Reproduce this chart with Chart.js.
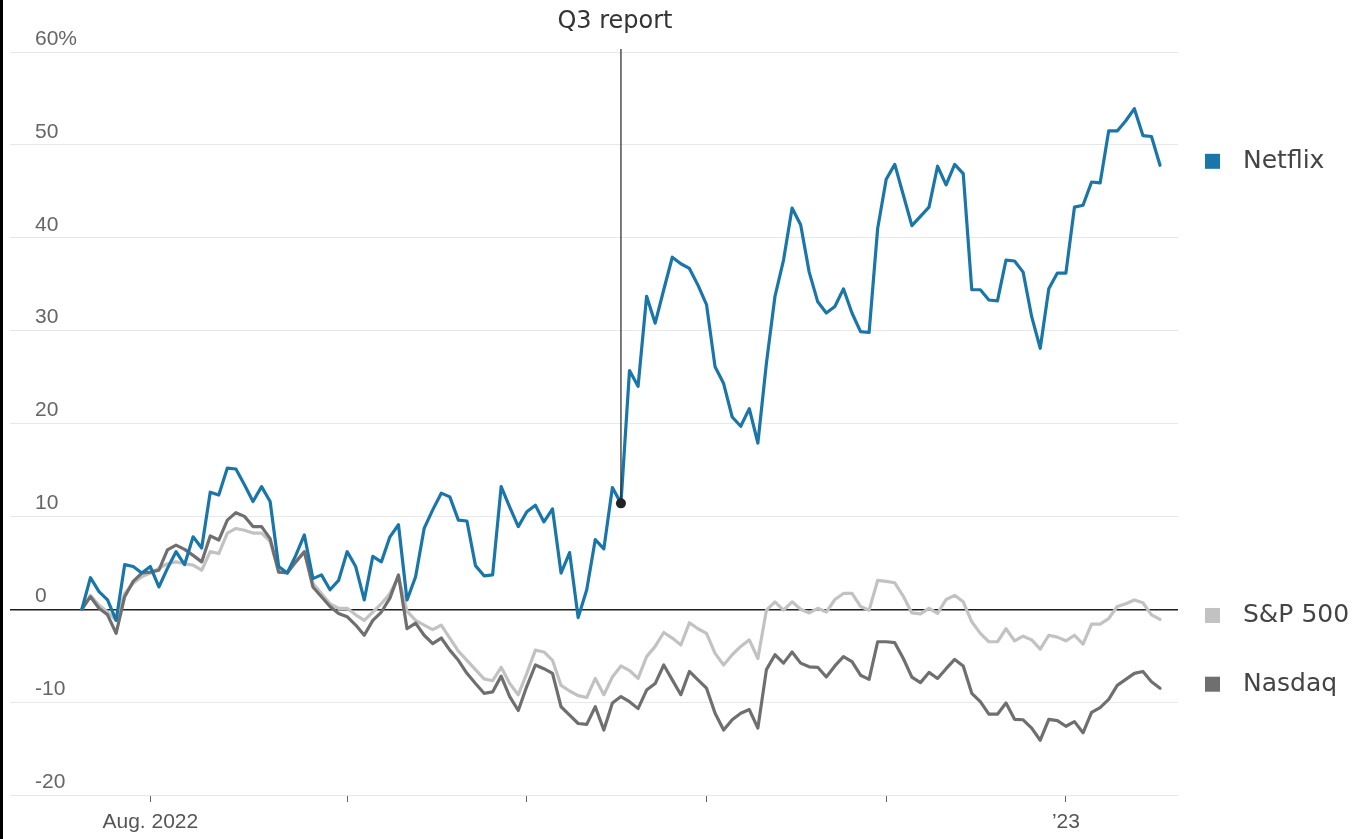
<!DOCTYPE html>
<html>
<head>
<meta charset="utf-8">
<title>Netflix, S&amp;P 500 y Nasdaq</title>
<script src="https://cdn.jsdelivr.net/npm/chart.js@4.4.1/dist/chart.umd.min.js"></script>
<style>
    html, body { margin: 0; padding: 0; background: #fff; }
    #wrap { position: relative; width: 1360px; height: 839px; }
    #borde { position: absolute; left: 0; top: 0; width: 3px; height: 839px; background: #000; }
    canvas { display: block; }
</style>
</head>
<body>
<div id="wrap">
    <canvas id="grafico" width="1360" height="839"></canvas>
    <div id="borde"></div>
</div>
<script>
/*========== DATOS ==========*/
// Dias de mercado, del 20 de julio de 2022 al 19 de enero de 2023
const fechas = [
    '2022-07-20','2022-07-21','2022-07-22','2022-07-25','2022-07-26','2022-07-27','2022-07-28','2022-07-29',
    '2022-08-01','2022-08-02','2022-08-03','2022-08-04','2022-08-05','2022-08-08','2022-08-09','2022-08-10',
    '2022-08-11','2022-08-12','2022-08-15','2022-08-16','2022-08-17','2022-08-18','2022-08-19','2022-08-22',
    '2022-08-23','2022-08-24','2022-08-25','2022-08-26','2022-08-29','2022-08-30','2022-08-31',
    '2022-09-01','2022-09-02','2022-09-06','2022-09-07','2022-09-08','2022-09-09','2022-09-12','2022-09-13',
    '2022-09-14','2022-09-15','2022-09-16','2022-09-19','2022-09-20','2022-09-21','2022-09-22','2022-09-23',
    '2022-09-26','2022-09-27','2022-09-28','2022-09-29','2022-09-30',
    '2022-10-03','2022-10-04','2022-10-05','2022-10-06','2022-10-07','2022-10-10','2022-10-11','2022-10-12',
    '2022-10-13','2022-10-14','2022-10-17','2022-10-18','2022-10-19','2022-10-20','2022-10-21','2022-10-24',
    '2022-10-25','2022-10-26','2022-10-27','2022-10-28','2022-10-31',
    '2022-11-01','2022-11-02','2022-11-03','2022-11-04','2022-11-07','2022-11-08','2022-11-09','2022-11-10',
    '2022-11-11','2022-11-14','2022-11-15','2022-11-16','2022-11-17','2022-11-18','2022-11-21','2022-11-22',
    '2022-11-23','2022-11-25','2022-11-28','2022-11-29','2022-11-30',
    '2022-12-01','2022-12-02','2022-12-05','2022-12-06','2022-12-07','2022-12-08','2022-12-09','2022-12-12',
    '2022-12-13','2022-12-14','2022-12-15','2022-12-16','2022-12-19','2022-12-20','2022-12-21','2022-12-22',
    '2022-12-23','2022-12-27','2022-12-28','2022-12-29','2022-12-30',
    '2023-01-03','2023-01-04','2023-01-05','2023-01-06','2023-01-09','2023-01-10','2023-01-11','2023-01-12',
    '2023-01-13','2023-01-17','2023-01-18','2023-01-19'
];

// Variacion acumulada en %
const netflix = [
    0, 3.4, 1.9, 1.0, -1.2, 4.8, 4.6, 3.9, 4.6, 2.4, 4.4, 6.2, 4.8, 7.8, 6.6, 12.6,
    12.3, 15.2, 15.1, 13.4, 11.6, 13.2, 11.6, 4.6, 3.9, 5.8, 8.0, 3.3, 3.7, 2.1, 3.1,
    6.2, 4.6, 1.0, 5.7, 5.1, 7.8, 9.1, 1.0, 3.5, 8.7, 10.7, 12.5, 12.1, 9.6, 9.5,
    4.7, 3.6, 3.7, 13.2, 11.0, 8.9,
    10.5, 11.2, 9.4, 10.8, 3.9, 6.1, -0.9, 2.1, 7.5, 6.5, 13.1, 11.4, 25.7, 24.0,
    33.7, 30.8, 34.4, 37.9, 37.2, 36.7, 34.9,
    32.8, 26.1, 24.3, 20.7, 19.7, 21.6, 17.9, 26.5, 33.7, 37.6, 43.2, 41.4, 36.3,
    33.1, 31.9, 32.6, 34.5, 31.9, 29.9, 29.8, 41.0,
    46.3, 47.9, 44.6, 41.3, 42.3, 43.3, 47.7, 45.7, 47.9, 46.9, 34.4, 34.4, 33.3,
    33.2, 37.6, 37.5, 36.3, 31.5, 28.1, 34.5, 36.2,
    36.2, 43.3, 43.5, 46.0, 45.9, 51.5, 51.5, 52.6, 53.9, 51.0, 50.9, 47.8
];

const sp500 = [
    0, 1.5, 0.45, -0.3, -1.2, 1.7, 2.8, 3.5, 3.9, 4.4, 4.9, 5.1, 4.9, 4.75, 4.2, 6.2,
    6.0, 8.2, 8.7, 8.5, 8.2, 8.2, 7.3, 4.0, 4.0, 5.1, 6.2, 2.8, 1.7, 0.6, 0.1,
    0.1, -0.6, -1.2, -0.3, 0.6, 1.7, 3.5, -0.2, -1.2, -1.7, -2.2, -1.7, -3.1, -4.5, -5.5,
    -6.5, -7.5, -7.7, -6.25, -8.0, -9.2,
    -6.9, -4.4, -4.6, -5.5, -8.2, -8.8, -9.3, -9.5, -7.45, -9.2, -7.3, -6.1, -6.6, -7.45,
    -5.1, -4.0, -2.5, -3.1, -3.85, -1.45, -2.1,
    -2.6, -4.75, -6.0, -4.9, -4.0, -3.3, -5.3, -0.1, 0.8, -0.1, 0.8, 0.0, -0.4,
    0.1, -0.3, 1.05, 1.7, 1.7, 0.3, -0.1, 3.1,
    3.0, 2.85, 1.4, -0.4, -0.5, 0.1, -0.45, 1.05, 1.5, 0.8, -1.35, -2.6, -3.5,
    -3.5, -2.1, -3.4, -2.9, -3.3, -4.3, -2.8, -3.0,
    -3.4, -2.8, -3.75, -1.6, -1.6, -1.0, 0.3, 0.6, 1.0, 0.7, -0.6, -1.1
];

const nasdaq = [
    0, 1.35, 0.1, -0.6, -2.6, 1.35, 3.0, 3.9, 4.0, 4.2, 6.4, 6.9, 6.45, 5.8, 5.1, 7.9,
    7.45, 9.6, 10.4, 10.0, 8.9, 8.9, 7.6, 4.0, 3.9, 5.1, 6.2, 2.4, 1.35, 0.3, -0.45,
    -0.8, -1.7, -2.8, -1.2, -0.3, 1.2, 3.7, -2.1, -1.5, -2.8, -3.7, -3.1, -4.4, -5.5, -6.9,
    -8.0, -9.05, -8.9, -7.2, -9.4, -10.9,
    -8.3, -6.0, -6.4, -6.9, -10.5, -11.4, -12.3, -12.4, -10.5, -13.0, -10.1, -9.4, -9.95, -10.7,
    -8.7, -8.0, -6.0, -7.6, -9.2, -6.7, -7.6,
    -8.5, -11.2, -13.0, -11.9, -11.2, -10.8, -12.8, -6.5, -4.9, -5.8, -4.6, -5.8, -6.2,
    -6.25, -7.3, -6.1, -5.1, -5.65, -7.1, -7.55, -3.5,
    -3.5, -3.6, -5.3, -7.3, -7.9, -6.8, -7.45, -6.4, -5.4, -6.1, -9.05, -9.95, -11.3,
    -11.3, -10.1, -11.85, -11.9, -12.8, -14.1, -11.85, -12.0,
    -12.6, -12.1, -13.3, -11.1, -10.6, -9.7, -8.2, -7.55, -6.9, -6.7, -7.8, -8.5
];

const nombresSeries = ['Netflix', 'Nasdaq', 'S&P 500'];
const etiquetasMes = { '2022-08': 'Aug. 2022', '2023-01': '\u201923' };
const fechaInforme = '2022-10-18';
const textoInforme = 'Q3 report';

/*========== CONFIGURACION ==========*/
const idxInforme = fechas.indexOf(fechaInforme);

// Primer dia de mercado de cada mes -> marcas del eje x
const inicioMes = [];
for (let i = 1; i < fechas.length; i++) {
    if (fechas[i].slice(0, 7) !== fechas[i - 1].slice(0, 7)) inicioMes.push(i);
}

const aPuntos = serie => serie.map((v, i) => ({ x: i, y: v }));
const fuenteEjes = { family: '"Liberation Sans", Arial, sans-serif', size: 21 };

// Linea vertical del informe, punto y leyenda al final de cada serie
const pluginExtras = {
    id: 'extras',
    afterDatasetsDraw(chart) {
        const { ctx, chartArea } = chart;
        const x = chart.scales.x;
        const y = chart.scales.y;
        const px = x.getPixelForValue(idxInforme);
        const py = y.getPixelForValue(netflix[idxInforme]);

        ctx.save();
        ctx.strokeStyle = '#222';
        ctx.lineWidth = 1.2;
        ctx.beginPath();
        ctx.moveTo(px, chartArea.top - 3);
        ctx.lineTo(px, py);
        ctx.stroke();
        ctx.fillStyle = '#222';
        ctx.beginPath();
        ctx.arc(px, py, 5, 0, Math.PI * 2);
        ctx.fill();

        ctx.font = '24px "DejaVu Sans", sans-serif';
        ctx.fillStyle = '#333';
        ctx.textAlign = 'center';
        ctx.textBaseline = 'middle';
        ctx.fillText(textoInforme, px - 6, 22);

        ctx.textAlign = 'left';
        ctx.font = '25px "DejaVu Sans", sans-serif';
        chart.data.datasets.forEach(ds => {
            const ultimo = ds.data[ds.data.length - 1].y;
            const ly = y.getPixelForValue(ultimo) - 4;
            ctx.fillStyle = ds.borderColor;
            ctx.fillRect(chartArea.right + 27, ly - 7.5, 15, 15);
            ctx.fillStyle = '#444';
            ctx.fillText(ds.label, chartArea.right + 65, ly);
        });
        ctx.restore();
    }
};

const ctx = document.getElementById('grafico').getContext('2d');
const grafico = new Chart(ctx, {
    type: 'line',
    data: {
        datasets: [
            { label: nombresSeries[0], data: aPuntos(netflix), borderColor: '#1a76a9', borderWidth: 3.2 },
            { label: nombresSeries[1], data: aPuntos(nasdaq), borderColor: '#6f6f6f', borderWidth: 3.2 },
            { label: nombresSeries[2], data: aPuntos(sp500), borderColor: '#c2c2c2', borderWidth: 3.2 }
        ]
    },
    options: {
        responsive: false,
        animation: false,
        layout: { padding: { left: 10, right: 182, top: 52, bottom: 0 } },
        elements: {
            line: { tension: 0, borderJoinStyle: 'round', borderCapStyle: 'round' },
            point: { radius: 0 }
        },
        plugins: { legend: { display: false }, tooltip: { enabled: false } },
        scales: {
            x: {
                type: 'linear',
                min: -8.4,
                max: 128.1,
                afterBuildTicks: s => { s.ticks = inicioMes.map(i => ({ value: i })); },
                afterFit: s => { s.height = 44; },
                grid: { drawOnChartArea: false, drawTicks: true, tickLength: 7, color: '#666' },
                border: { display: false },
                ticks: {
                    autoSkip: false,
                    maxRotation: 0,
                    padding: 8,
                    color: '#555',
                    font: fuenteEjes,
                    callback: v => etiquetasMes[fechas[v].slice(0, 7)] || ''
                }
            },
            y: {
                min: -20,
                max: 60,
                afterFit: s => { s.width = 0; },
                grid: {
                    drawTicks: false,
                    color: c => c.tick.value === 0 ? '#1e1e1e' : '#e8e8e8',
                    lineWidth: c => c.tick.value === 0 ? 1.5 : 1
                },
                border: { display: false },
                ticks: {
                    stepSize: 10,
                    mirror: true,
                    padding: 25,
                    labelOffset: -13,
                    color: '#666',
                    font: fuenteEjes,
                    callback: v => v === 60 ? '60%' : String(v)
                }
            }
        }
    },
    plugins: [pluginExtras]
});
</script>
</body>
</html>
